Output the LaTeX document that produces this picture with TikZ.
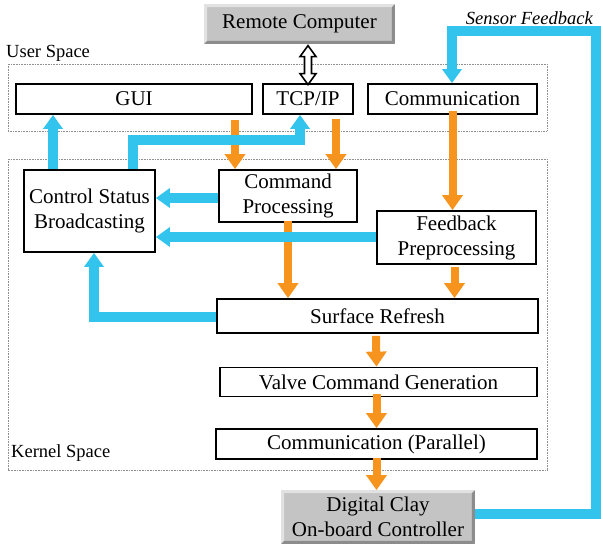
\documentclass[tikz,border=0pt]{standalone}
\usepackage{fontspec}
\setmainfont{Liberation Serif}
\usetikzlibrary{arrows.meta,calc}
\definecolor{org}{HTML}{F7941D}
\definecolor{blu}{HTML}{33C4EE}
\definecolor{gfill}{HTML}{C4C4C4}
\definecolor{gdark}{HTML}{8C8C8C}
\definecolor{glight}{HTML}{E2E2E2}
\definecolor{dotc}{HTML}{909090}
\tikzset{
  box/.style={draw=black, line width=1.8pt, fill=white, inner sep=0pt, align=center,
    font=\fontsize{21}{25}\selectfont},
  gbox/.style={box, draw=none, fill=gfill},
  grp/.style={draw=dotc, line width=0.8pt, dash pattern=on 1pt off 0.6pt},
  lbl/.style={font=\fontsize{18.5}{22}\selectfont, inner sep=0pt},
  oar/.style={draw=org, line width=8pt, -{Triangle[width=20pt,length=15pt]}},
  bar/.style={draw=blu, line width=10pt, -{Triangle[width=19pt,length=14pt]}},
}
\newcommand{\bevel}[1]{%
  \fill[glight] (#1.north west) -- (#1.north east) -- ([shift={(-3,3)}]#1.north east) -- ([shift={(3,3)}]#1.north west) -- cycle;
  \fill[glight] (#1.north west) -- (#1.south west) -- ([shift={(3,-3)}]#1.south west) -- ([shift={(3,3)}]#1.north west) -- cycle;
  \fill[gdark] (#1.north east) -- (#1.south east) -- ([shift={(-3,-3)}]#1.south east) -- ([shift={(-3,3)}]#1.north east) -- cycle;
  \fill[gdark] (#1.south west) -- (#1.south east) -- ([shift={(-3,-3)}]#1.south east) -- ([shift={(3,-3)}]#1.south west) -- cycle;
}
\begin{document}
\begin{tikzpicture}[x=1pt,y=-1pt]
\useasboundingbox (0,0) rectangle (601,544);
% group boxes
\draw[grp] (8,64) rectangle (547,131);
\draw[grp] (8,159) rectangle (547,470);
\node[lbl, anchor=west] (us) at (6,53) {User Space};
\node[lbl, anchor=west] (ks) at (11,453) {Kernel Space};
\node[lbl, anchor=east] (sf) at (593,18) {\itshape Sensor Feedback};
% nodes
\node[gbox, minimum width=189pt, minimum height=38pt] (rc) at (299.5,24) {Remote Computer};
\bevel{rc}
\node[gbox, minimum width=192pt, minimum height=52pt] (dc) at (378,517) {};
\bevel{dc}
\node[font=\fontsize{21}{25}\selectfont, align=center, inner sep=0pt] (dct) at (dc.center) {Digital Clay\\On-board Controller};
\node[box, minimum width=236pt, minimum height=30pt] (gui) at (134,99) {GUI};
\node[box, minimum width=90pt, minimum height=30pt] (tcp) at (308,99) {TCP/IP};
\node[box, minimum width=169pt, minimum height=30pt] (comm) at (452.5,99) {Communication};
\node[box, minimum width=131pt, minimum height=82pt] (csb) at (89.5,211) {Control Status\\Broadcasting};
\node[box, minimum width=138pt, minimum height=52pt] (cmd) at (288,196) {Command\\Processing};
\node[box, minimum width=159pt, minimum height=53pt] (fbp) at (456.5,237.5) {Feedback\\Preprocessing};
\node[box, minimum width=321pt, minimum height=34pt] (sr) at (377.5,316) {Surface Refresh};
\node[box, minimum width=317pt, minimum height=29pt] (vcg) at (378.5,382) {Valve Command Generation};
\node[box, minimum width=321pt, minimum height=30pt] (cpar) at (376.5,444) {Communication (Parallel)};
% double arrow remote <-> tcp
\draw[fill=white, line width=1.6pt, line join=miter]
  ([yshift=-1.5]tcp.north) -- ++(-8,-11) -- ++(4.5,0) -- ++(0,-17) -- ++(-4.5,0)
  -- ++(8,-11) -- ++(8,11) -- ++(-4.5,0) -- ++(0,17) -- ++(4.5,0) -- cycle;
% orange arrows
\coordinate (o1s) at (235,120);
\draw[oar] (o1s) -- (o1s |- cmd.north);
\draw[oar] ([shift={(28,4)}]tcp.south) -- ([xshift=48]cmd.north);
\draw[oar] ([yshift=4]comm.south) -- (comm.south |- fbp.north);
\draw[oar] ([yshift=2]cmd.south) -- (cmd.south |- sr.north);
\draw[oar] ([shift={(-2,2)}]fbp.south) -- ([xshift=-2]fbp.south |- sr.north);
\draw[oar] ([shift={(-1.5,2)}]sr.south) -- (vcg.north -| cpar.south);
\draw[oar] ([yshift=3]vcg.south -| cpar.south) -- (cpar.north);
\draw[oar] ([yshift=2]cpar.south) -- (cpar.south |- dc.north);
% blue arrows
\coordinate (b1) at (53,0);
\draw[bar] (csb.north -| b1) -- (gui.south -| b1);
\coordinate (b2a) at (133,140);
\coordinate (b2b) at (300,140);
\draw[bar] (csb.north -| b2a) -- (b2a) -- (b2b) -- (tcp.south -| b2b);
\coordinate (b3) at (0,198);
\draw[bar] (cmd.west |- b3) -- (csb.east |- b3);
\coordinate (b4) at (0,237);
\draw[bar] (fbp.west |- b4) -- (csb.east |- b4);
\coordinate (b5) at (94,317);
\draw[bar] (sr.west |- b5) -- (b5) -- (csb.south -| b5);
\coordinate (b6a) at (596,514);
\coordinate (b6b) at (596,31);
\coordinate (b6c) at (452,31);
\draw[bar] (dc.east |- b6a) -- (b6a) -- (b6b) -- (b6c) -- (comm.north -| b6c);
\end{tikzpicture}
\end{document}
